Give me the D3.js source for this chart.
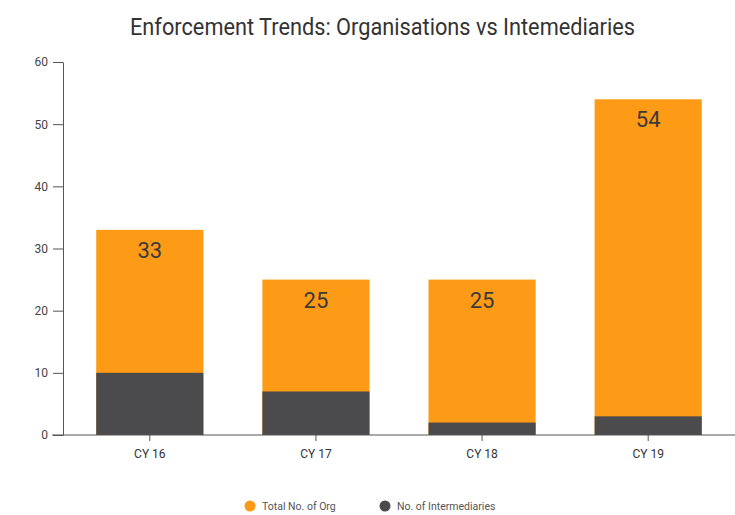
<!DOCTYPE html>
<html>
<head>
<meta charset="utf-8">
<script src="https://cdn.jsdelivr.net/npm/d3@7"></script>
<style>
  body { margin: 0; background: #fff; }
  #chart-area { width: 735px; height: 515px; }
  text { font-family: Roboto, "Liberation Sans", sans-serif; }
</style>
</head>
<body>
<div id="chart-area"></div>
<script>
const categories = ["CY 16", "CY 17", "CY 18", "CY 19"];
const totalOrg = [33, 25, 25, 54];
const intermediaries = [10, 7, 2, 3];
const yTicks = [0, 10, 20, 30, 40, 50, 60];
const seriesNames = ["Total No. of Org", "No. of Intermediaries"];

const width = 735, height = 515;
const margin = { top: 62, right: 0, bottom: 80, left: 63 };

const colors = ["#fd9b17", "#4b4b4d"];

const svg = d3.select("#chart-area")
    .append("svg")
    .attr("width", width)
    .attr("height", height);

// title (narrow lettering like the original)
svg.append("text")
    .attr("x", 130)
    .attr("y", 35)
    .attr("font-size", 24)
    .attr("fill", "#333")
    .attr("textLength", 505)
    .attr("lengthAdjust", "spacingAndGlyphs")
    .text("Enforcement Trends: Organisations vs Intemediaries");

const x = d3.scaleBand()
    .domain(categories)
    .range([margin.left, width - margin.right])
    .paddingInner(0.355)
    .paddingOuter(0.2);

const y = d3.scaleLinear()
    .domain([0, 60])
    .range([height - margin.bottom, margin.top]);

const g = svg.append("g");

// orange bars (total)
g.selectAll("rect.org")
    .data(categories)
    .join("rect")
    .attr("class", "org")
    .attr("x", d => x(d))
    .attr("y", (d, i) => y(totalOrg[i]))
    .attr("width", x.bandwidth())
    .attr("height", (d, i) => y(0) - y(totalOrg[i]))
    .attr("fill", colors[0]);

// dark bars overlaid from zero
g.selectAll("rect.int")
    .data(categories)
    .join("rect")
    .attr("class", "int")
    .attr("x", d => x(d))
    .attr("y", (d, i) => y(intermediaries[i]))
    .attr("width", x.bandwidth())
    .attr("height", (d, i) => y(0) - y(intermediaries[i]))
    .attr("fill", colors[1]);

// value labels
g.selectAll("text.val")
    .data(categories)
    .join("text")
    .attr("class", "val")
    .attr("x", d => x(d) + x.bandwidth() / 2)
    .attr("y", (d, i) => y(totalOrg[i]) + 28)
    .attr("text-anchor", "middle")
    .attr("font-size", 22)
    .attr("fill", "#3a3a3a")
    .text((d, i) => totalOrg[i]);

// y axis
const yAxis = svg.append("g")
    .attr("transform", "translate(" + margin.left + ",0)")
    .call(d3.axisLeft(y).tickValues(yTicks).tickSize(10).tickSizeOuter(0).tickPadding(5));
yAxis.select(".domain").attr("stroke", "#555");
yAxis.selectAll(".tick line").attr("stroke", "#555");
yAxis.selectAll(".tick text")
    .attr("font-size", 12)
    .attr("fill", "#444")
    .style("font-family", "Roboto, sans-serif");

// x axis
const xAxis = svg.append("g")
    .attr("transform", "translate(0," + y(0) + ")")
    .call(d3.axisBottom(x).tickSize(6).tickSizeOuter(0).tickPadding(8));
xAxis.select(".domain")
    .attr("d", "M" + (margin.left - 11) + ",0H" + width)
    .attr("stroke", "#555");
xAxis.selectAll(".tick line").attr("stroke", "#555");
xAxis.selectAll(".tick text")
    .attr("font-size", 12)
    .attr("fill", "#333")
    .style("font-family", "Roboto, sans-serif");

// legend
const legendX = [250, 385];
const legend = svg.selectAll("g.legend")
    .data(seriesNames)
    .join("g")
    .attr("class", "legend")
    .attr("transform", (d, i) => "translate(" + legendX[i] + ",506)");
legend.append("circle")
    .attr("r", 5.5)
    .attr("fill", (d, i) => colors[i]);
legend.append("text")
    .attr("x", 12)
    .attr("y", 4)
    .attr("font-size", 10.5)
    .attr("fill", "#555")
    .text(d => d);
</script>
</body>
</html>
